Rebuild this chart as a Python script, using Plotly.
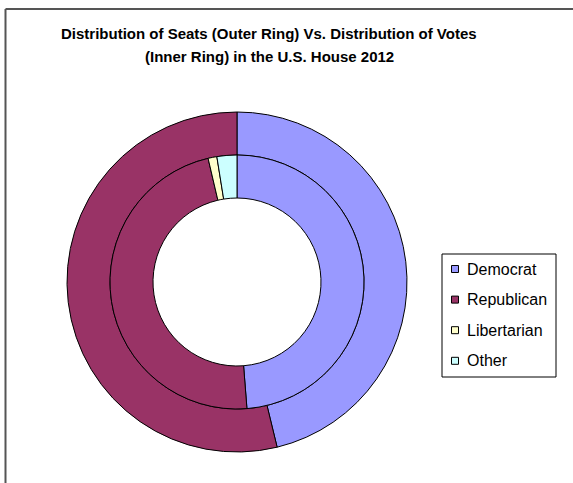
import plotly.graph_objects as go

# --- data -------------------------------------------------------------
parties = ["Democrat", "Republican", "Libertarian", "Other"]
party_colors = ["#9999FF", "#993366", "#FFFFCC", "#CCFFFF"]

# House seats won (outer ring)
seat_parties = ["Democrat", "Republican"]
seats = [201, 234]

# Popular vote (inner ring)
vote_parties = ["Democrat", "Republican", "Libertarian", "Other"]
votes = [59645531, 58228253, 1367000, 3105236]

title_lines = [
    "Distribution of Seats (Outer Ring) Vs. Distribution of Votes",
    "(Inner Ring) in the U.S. House 2012",
]

# --- layout helpers (pixel -> paper) -----------------------------------
W, H = 573, 483


def px(x):
    return x / W


def py(y):
    return (H - y) / H


CX, CY = 237, 282          # centre of both rings
R_OUT, R_MID, R_IN = 170, 127, 84
color_of = dict(zip(parties, party_colors))


def domain(r):
    return dict(x=[px(CX - r), px(CX + r)], y=[py(CY + r), py(CY - r)])


fig = go.Figure()

fig.add_trace(go.Pie(
    labels=seat_parties, values=seats,
    marker=dict(colors=[color_of[p] for p in seat_parties],
                line=dict(color="black", width=1)),
    hole=R_MID / R_OUT, domain=domain(R_OUT),
    sort=False, direction="clockwise", rotation=0,
    textinfo="none", showlegend=False, name="Seats",
))

fig.add_trace(go.Pie(
    labels=vote_parties, values=votes,
    marker=dict(colors=[color_of[p] for p in vote_parties],
                line=dict(color="black", width=1)),
    hole=R_IN / R_MID, domain=domain(R_MID),
    sort=False, direction="clockwise", rotation=0,
    textinfo="none", showlegend=False, name="Votes",
))

shapes = []
annotations = []

# chart-area frame (top and left edges)
frame = dict(type="line", xref="paper", yref="paper",
             line=dict(color="#555555", width=2))
shapes.append(dict(frame, x0=px(5.5), x1=px(W + 2), y0=py(9), y1=py(9)))
shapes.append(dict(frame, x0=px(5.5), x1=px(5.5), y0=py(9), y1=py(H + 2)))

# title
title_font = dict(family="Liberation Sans, Arial, sans-serif", size=15,
                  color="black")
for i, line in enumerate(title_lines):
    annotations.append(dict(
        text=f"<b>{line}</b>", xref="paper", yref="paper",
        x=px(269), y=py(33 + 23.5 * i), xanchor="center", yanchor="middle",
        showarrow=False, font=title_font,
    ))

# legend box
LX0, LY0, LX1, LY1 = 442, 254, 556, 377
shapes.append(dict(type="rect", xref="paper", yref="paper",
                   x0=px(LX0), x1=px(LX1), y0=py(LY1), y1=py(LY0),
                   line=dict(color="black", width=1), fillcolor="white"))
leg_font = dict(family="Liberation Sans, Arial, sans-serif", size=16,
                color="black")
for i, (name, col) in enumerate(zip(parties, party_colors)):
    yc = 269 + 30.6 * i
    shapes.append(dict(type="rect", xref="paper", yref="paper",
                       x0=px(451.5), x1=px(458.5),
                       y0=py(yc + 3.5), y1=py(yc - 3.5),
                       fillcolor=col, line=dict(color="black", width=1)))
    annotations.append(dict(
        text=name, xref="paper", yref="paper",
        x=px(465), y=py(yc), xanchor="left", yanchor="middle",
        showarrow=False, font=leg_font,
    ))

fig.update_layout(
    width=W, height=H,
    margin=dict(l=0, r=0, t=0, b=0),
    paper_bgcolor="white", plot_bgcolor="white",
    shapes=shapes, annotations=annotations,
    showlegend=False,
)

fig.write_html("out.html")
